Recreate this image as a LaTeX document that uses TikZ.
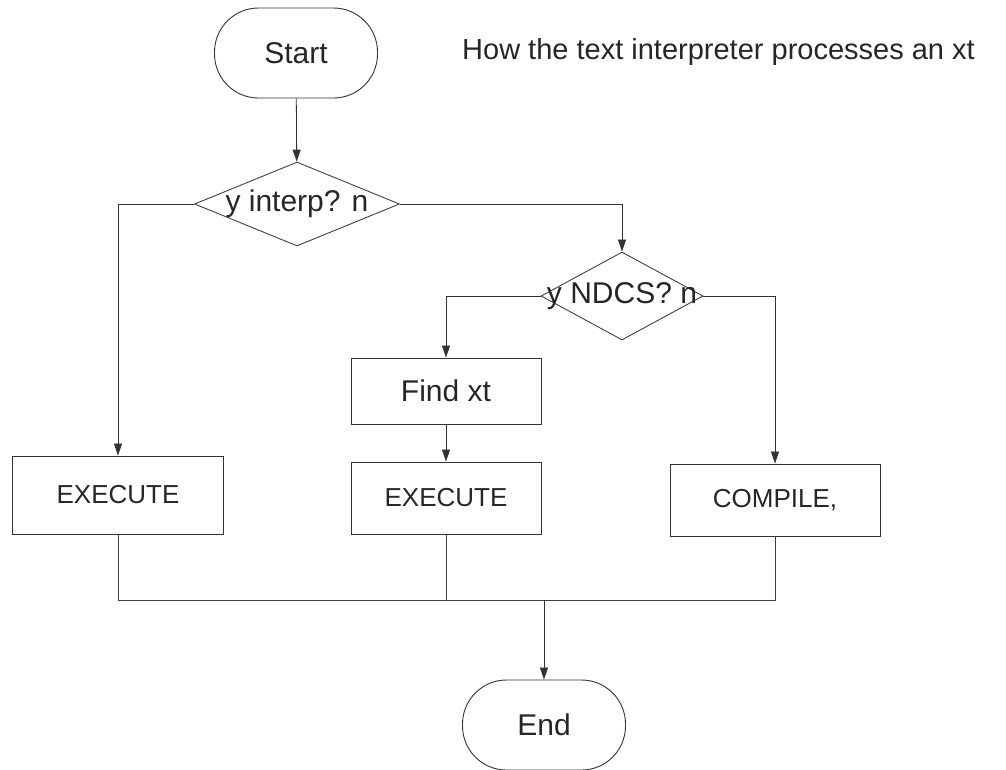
\documentclass[tikz,border=0pt]{standalone}
\usepackage{fontspec}
\setmainfont{Liberation Sans}
\usetikzlibrary{shapes.geometric,arrows.meta}
\begin{document}
\begin{tikzpicture}[x=1pt,y=-1pt,
    every node/.style={text=black!85},
    terminal/.style={draw=black!80,line width=0.9pt,rounded corners=44pt,
        minimum width=163pt,minimum height=90pt,font=\fontsize{30}{36}\selectfont},
    decision/.style={draw=black!75,line width=0.9pt,diamond,inner sep=0pt,
        minimum width=205pt,minimum height=84pt},
    dlabel/.style={font=\fontsize{30}{36}\selectfont,text=black!85},
    process/.style={draw=black!80,line width=0.9pt,rectangle,inner sep=0pt},
    flow/.style={draw=black!80,line width=0.8pt,-{Triangle[length=12pt,width=8pt]}},
    link/.style={draw=black!75,line width=0.8pt}]
    \useasboundingbox (0,0) rectangle (1006,769);
    % terminals and title
    \node[terminal] (start) at (296,53) {Start};
    \node[anchor=west,inner sep=0pt,font=\fontsize{29}{34}\selectfont] (title) at (462,52)
        {How the text interpreter processes an xt};
    % decisions
    \node[decision,label={[dlabel]center:y interp? n}] (interp) at (297,204) {};
    \node[decision,minimum width=162pt,minimum height=88pt,
        label={[dlabel]center:y NDCS? n}] (ndcs) at (622,296) {};
    % boxes
    \node[process,minimum width=190pt,minimum height=66pt,
        font=\fontsize{30}{36}\selectfont] (findxt) at (446,391) {Find xt};
    \node[process,minimum width=211pt,minimum height=78pt,
        font=\fontsize{26}{30}\selectfont] (execa) at (118,495) {EXECUTE};
    \node[process,minimum width=190pt,minimum height=72pt,
        font=\fontsize{26}{30}\selectfont] (execb) at (446,498) {EXECUTE};
    \node[process,minimum width=210pt,minimum height=72pt,
        font=\fontsize{26}{30}\selectfont] (compile) at (775,500) {COMPILE,};
    \node[terminal] (stop) at (544,725) {End};
    \coordinate (join) at (544,600);
    % connectors
    \draw[flow] (start) -- (interp);
    \draw[flow] (interp.west) -| (execa);
    \draw[flow] (interp.east) -| (ndcs);
    \draw[flow] (ndcs.west) -| (findxt);
    \draw[flow] (ndcs.east) -| (compile);
    \draw[flow] (findxt) -- (execb);
    \draw[link] (execa) |- (join);
    \draw[link] (execb) |- (join);
    \draw[link] (compile) |- (join);
    \draw[flow] (join) -- (stop);
\end{tikzpicture}
\end{document}
